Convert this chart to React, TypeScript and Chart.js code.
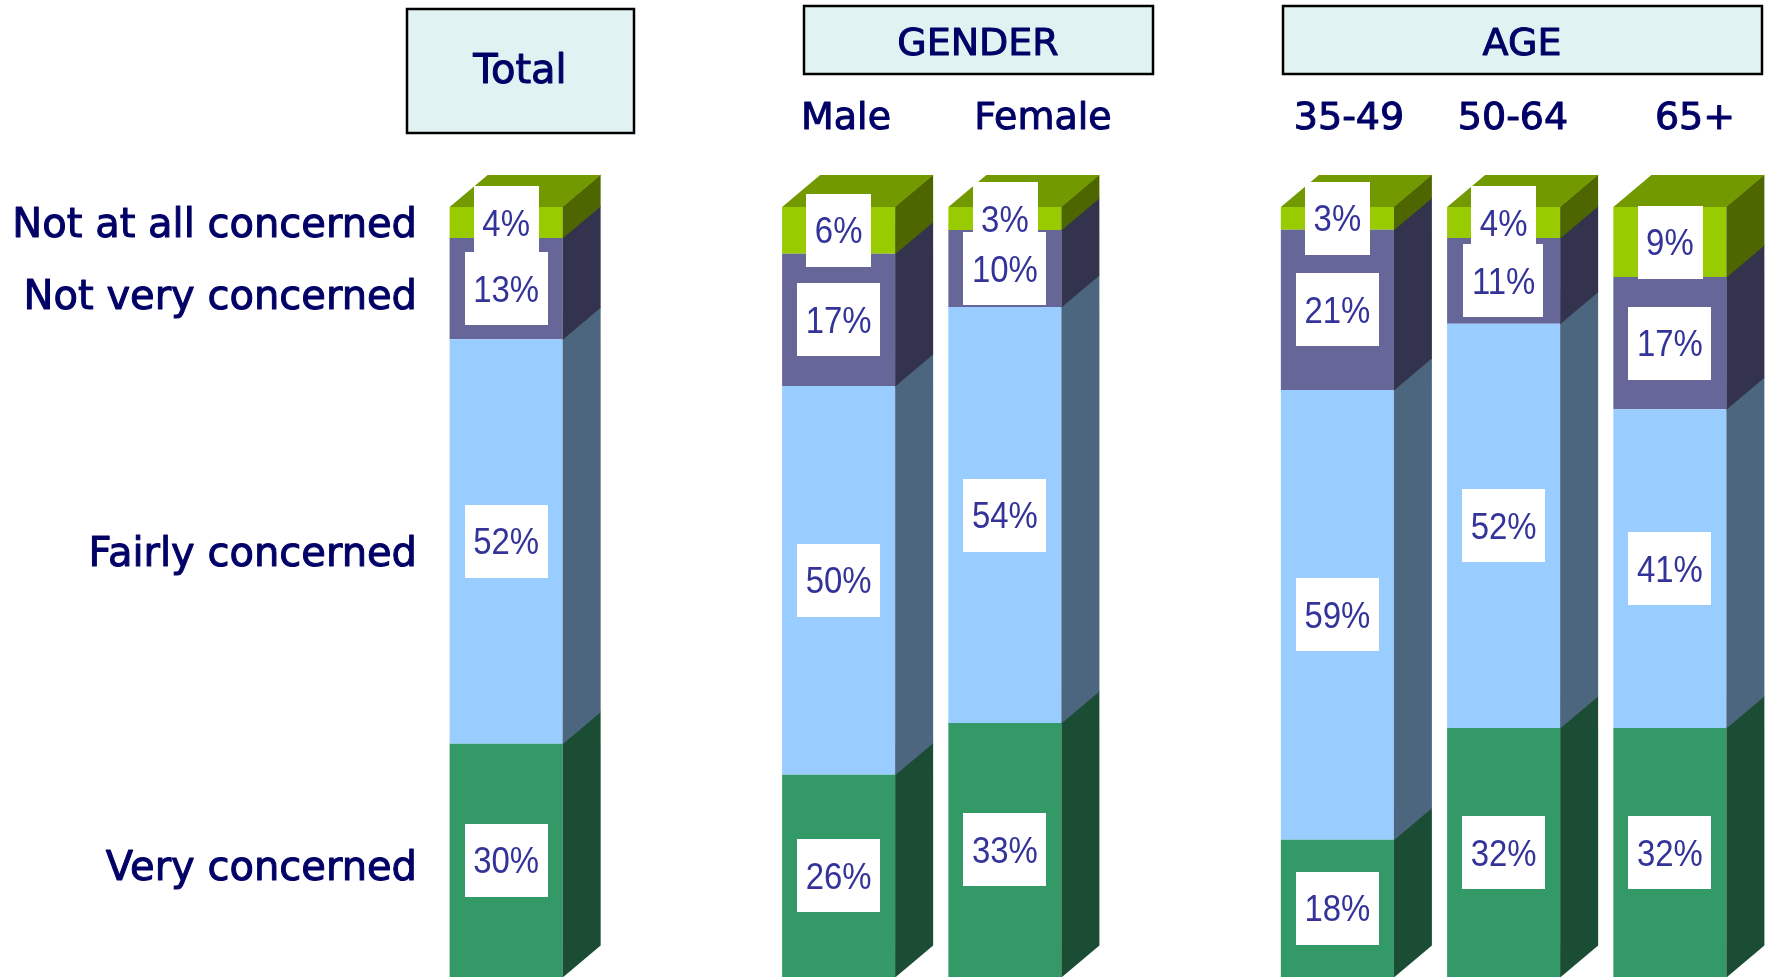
import React, { useEffect, useRef } from "react";
import { Chart, registerables } from "chart.js";

Chart.register(...registerables);

// Category slots (empty strings are spacer slots between groups)
const categories = ["Total", "", "Male", "Female", "", "35-49", "50-64", "65+"];

// Series values (%)
const veryConcerned = [30, null, 26, 33, null, 18, 32, 32];
const fairlyConcerned = [52, null, 50, 54, null, 59, 52, 41];
const notVeryConcerned = [13, null, 17, 10, null, 21, 11, 17];
const notAtAllConcerned = [4, null, 6, 3, null, 3, 4, 9];

const seriesNames = ["Very concerned", "Fairly concerned", "Not very concerned", "Not at all concerned"];
const rowLabels = ["Not at all concerned", "Not very concerned", "Fairly concerned", "Very concerned"];

const frontColors = ["#339966", "#99ccff", "#666699", "#99cc00"];
const sideColors = ["#1a4d33", "#4d6680", "#33334d", "#4d6600"];
const topColor = "#739900";
const navy = "#000066";
const valueColor = "#333399";

const DX = 38;
const DY = 32;

const allSeries = [veryConcerned, fairlyConcerned, notVeryConcerned, notAtAllConcerned];

// 100% stacked: normalise each column by its total
const columnTotals = categories.map((_, j) =>
  allSeries.reduce((s, arr) => s + (arr[j] == null ? 0 : (arr[j] as number)), 0)
);
const normalised = allSeries.map((arr) =>
  arr.map((v, j) => (v == null ? null : ((v as number) / columnTotals[j]) * 100))
);

const threeDPlugin = {
  id: "threeD",
  afterDatasetsDraw(chart: any) {
    const ctx = chart.ctx;
    const n = chart.data.datasets.length;
    const cols = chart.data.labels.length;
    ctx.save();
    for (let j = 0; j < cols; j++) {
      let topEl: any = null;
      for (let i = 0; i < n; i++) {
        const raw = chart.data.datasets[i].data[j];
        const el = chart.getDatasetMeta(i).data[j];
        if (raw == null || !el) continue;
        const { x, y, base, width } = el.getProps(["x", "y", "base", "width"], true);
        const right = x + width / 2;
        ctx.fillStyle = sideColors[i];
        ctx.beginPath();
        ctx.moveTo(right, base + 0.5);
        ctx.lineTo(right, y - 0.5);
        ctx.lineTo(right + DX, y - DY - 0.5);
        ctx.lineTo(right + DX, base - DY + 0.5);
        ctx.closePath();
        ctx.fill();
        topEl = { x, y, width };
      }
      if (topEl) {
        const l = topEl.x - topEl.width / 2;
        const r = topEl.x + topEl.width / 2;
        ctx.fillStyle = topColor;
        ctx.beginPath();
        ctx.moveTo(l, topEl.y);
        ctx.lineTo(l + DX, topEl.y - DY);
        ctx.lineTo(r + DX, topEl.y - DY);
        ctx.lineTo(r, topEl.y);
        ctx.closePath();
        ctx.fill();
      }
    }
    ctx.restore();
  },
  afterDraw(chart: any) {
    const ctx = chart.ctx;
    ctx.save();
    // value labels (slightly condensed sans)
    const SX = 0.89;
    ctx.font = '37px "Liberation Sans", Arial, sans-serif';
    ctx.textAlign = "center";
    ctx.textBaseline = "alphabetic";
    const n = chart.data.datasets.length;
    for (let i = 0; i < n; i++) {
      const meta = chart.getDatasetMeta(i);
      meta.data.forEach((el: any, j: number) => {
        const v = allSeries[i][j];
        if (v == null) return;
        const { x, y, base } = el.getProps(["x", "y", "base"], true);
        const cy = (y + base) / 2;
        const txt = `${v}%`;
        const tw = ctx.measureText(txt).width * SX;
        const w = tw + 17;
        const h = 73;
        ctx.fillStyle = "#ffffff";
        ctx.fillRect(Math.round(x - w / 2), Math.round(cy - h / 2), Math.round(w), h);
        ctx.fillStyle = valueColor;
        ctx.save();
        ctx.translate(x, cy + 13);
        ctx.scale(SX, 1);
        ctx.fillText(txt, 0, 0);
        ctx.restore();
      });
    }

    // header boxes
    const box = (x1: number, y1: number, x2: number, y2: number) => {
      ctx.fillStyle = "#e0f2f2";
      ctx.fillRect(x1, y1, x2 - x1, y2 - y1);
      ctx.strokeStyle = "#000000";
      ctx.lineWidth = 2.5;
      ctx.strokeRect(x1, y1, x2 - x1, y2 - y1);
    };
    box(407, 9, 634, 133);
    box(804, 6, 1153, 74);
    box(1283, 6, 1762, 74);

    const text = (t: string, x: number, y: number) => {
      ctx.fillText(t, x, y);
      ctx.strokeText(t, x, y);
    };
    ctx.fillStyle = navy;
    ctx.strokeStyle = navy;
    ctx.lineWidth = 1;
    ctx.lineJoin = "round";
    ctx.textAlign = "center";
    ctx.font = '40px "DejaVu Sans", sans-serif';
    text("Total", 520, 83);
    ctx.font = '38px "DejaVu Sans", sans-serif';
    text("GENDER", 978, 55);
    text("AGE", 1522, 55);

    // sub-headers
    const subX: Record<string, number> = { Male: 846, Female: 1043, "35-49": 1349, "50-64": 1513, "65+": 1695 };
    categories.forEach((c) => {
      if (subX[c] != null) text(c, subX[c], 129);
    });

    // row labels
    ctx.font = '40px "DejaVu Sans", sans-serif';
    ctx.textAlign = "right";
    const baselines = [237, 309, 566, 880];
    rowLabels.forEach((t, k) => text(t, 417, baselines[k]));
    ctx.restore();
  },
};

export default function App() {
  const ref = useRef<HTMLCanvasElement | null>(null);
  useEffect(() => {
    if (!ref.current) return;
    const chart = new Chart(ref.current, {
      type: "bar",
      data: {
        labels: categories,
        datasets: normalised.map((d, i) => ({
          label: seriesNames[i],
          data: d as any,
          backgroundColor: frontColors[i],
          borderWidth: 0,
          barPercentage: 0.68,
          categoryPercentage: 1,
        })),
      },
      options: {
        animation: false,
        responsive: false,
        devicePixelRatio: 1,
        layout: { padding: { left: 423, right: 17, top: 207, bottom: 0 } },
        scales: {
          x: { display: false, stacked: true },
          y: { display: false, stacked: true, min: 0, max: 100 },
        },
        plugins: { legend: { display: false }, tooltip: { enabled: false } },
      },
      plugins: [threeDPlugin],
    });
    return () => chart.destroy();
  }, []);
  return (
    <div style={{ position: "absolute", left: 0, top: 0, width: 1770, height: 977, background: "#ffffff" }}>
      <canvas ref={ref} width={1770} height={977} style={{ display: "block" }} />
    </div>
  );
}
